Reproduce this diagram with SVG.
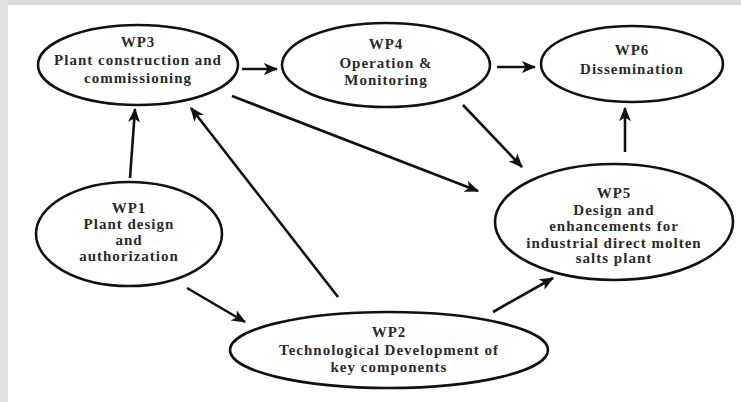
<svg xmlns="http://www.w3.org/2000/svg" width="741" height="402" viewBox="0 0 741 402">
  <defs>
    <marker id="arr" viewBox="0 0 12 10" refX="11" refY="5" markerWidth="5.5" markerHeight="5.5" orient="auto" markerUnits="strokeWidth">
      <path d="M0,0 L12,5 L0,10 L3,5 z" fill="#111"/>
    </marker>
  </defs>
  <style>
    .node ellipse { fill: #ffffff; stroke: #111; stroke-width: 2.6; }
    .node text { font-family: "Liberation Serif", "Times New Roman", serif; font-weight: bold; font-size: 15px; letter-spacing: 1px; fill: #2a2a2a; text-anchor: middle; }
    .conn line { stroke: #111; stroke-width: 2.6; marker-end: url(#arr); }
  </style>
  <rect x="0" y="0" width="741" height="402" fill="#ffffff"/>
  <rect x="0" y="0" width="741" height="5" fill="#d9d9d9"/>
  <rect x="0" y="0" width="8" height="402" fill="#e2e2e2"/>

  <g class="conn" id="connectors">
    <line x1="242" y1="69" x2="277" y2="69"/>
    <line x1="497" y1="67" x2="535" y2="67"/>
    <line x1="130" y1="178" x2="135" y2="109"/>
    <line x1="338" y1="297" x2="191" y2="108"/>
    <line x1="232" y1="96" x2="478" y2="191"/>
    <line x1="463" y1="105" x2="522" y2="167"/>
    <line x1="625" y1="152" x2="625" y2="108"/>
    <line x1="187" y1="288" x2="245" y2="322"/>
    <line x1="493" y1="312" x2="553" y2="278"/>
  </g>

  <g class="node" id="wp3">
    <ellipse cx="138" cy="65" rx="100" ry="40"/>
    <text x="138" y="47">WP3</text>
    <text x="138" y="65">Plant construction and</text>
    <text x="138" y="83">commissioning</text>
  </g>
  <g class="node" id="wp4">
    <ellipse cx="386" cy="65" rx="104" ry="42"/>
    <text x="386" y="49">WP4</text>
    <text x="386" y="68">Operation &amp;</text>
    <text x="386" y="85">Monitoring</text>
  </g>
  <g class="node" id="wp6">
    <ellipse cx="632" cy="64" rx="91" ry="38"/>
    <text x="632" y="55">WP6</text>
    <text x="632" y="74">Dissemination</text>
  </g>
  <g class="node" id="wp1">
    <ellipse cx="129" cy="234" rx="93" ry="52"/>
    <text x="129" y="213">WP1</text>
    <text x="129" y="229">Plant design</text>
    <text x="129" y="245">and</text>
    <text x="129" y="261">authorization</text>
  </g>
  <g class="node" id="wp5">
    <ellipse cx="614" cy="222" rx="119" ry="58"/>
    <text x="614" y="198">WP5</text>
    <text x="614" y="215">Design and</text>
    <text x="614" y="231">enhancements for</text>
    <text x="614" y="248">industrial direct molten</text>
    <text x="614" y="263">salts plant</text>
  </g>
  <g class="node" id="wp2">
    <ellipse cx="389" cy="350" rx="159" ry="38"/>
    <text x="389" y="337">WP2</text>
    <text x="389" y="355">Technological Development of</text>
    <text x="389" y="372">key components</text>
  </g>
</svg>
